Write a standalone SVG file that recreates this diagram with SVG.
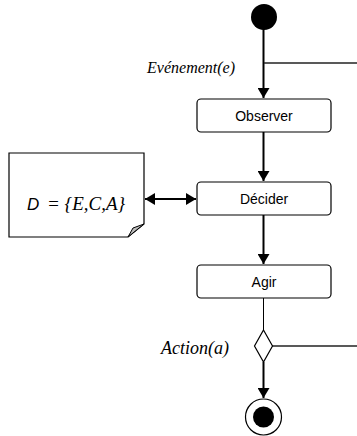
<svg xmlns="http://www.w3.org/2000/svg" width="357" height="436" viewBox="0 0 357 436">
<style>
.box{fill:#fff;stroke:#000;stroke-width:1.2}
.thick{stroke:#000;stroke-width:2;fill:none}
.thin{stroke:#000;stroke-width:1;fill:none}
.side{stroke:#222;stroke-width:1.3;fill:none}
</style>
<defs>
<marker id="ah" viewBox="0 0 10 12" refX="10" refY="6" markerWidth="5" markerHeight="6" orient="auto-start-reverse" markerUnits="strokeWidth">
<path d="M0,0 L10,6 L0,12 Z" fill="#000"/>
</marker>
</defs>
<g id="start"><circle cx="264" cy="17" r="13" fill="#000"/></g>
<g id="connectors">
<line class="thick" x1="263.5" y1="28" x2="263.5" y2="98" marker-end="url(#ah)"/>
<line class="side" x1="264" y1="63" x2="357" y2="63"/>
<line class="thick" x1="263.5" y1="132" x2="263.5" y2="181" marker-end="url(#ah)"/>
<line class="thick" x1="263.5" y1="215" x2="263.5" y2="264" marker-end="url(#ah)"/>
<line class="thin" x1="263.5" y1="298" x2="263.5" y2="330"/>
<line class="side" x1="272" y1="346" x2="357" y2="346"/>
<line class="thick" x1="263.5" y1="362" x2="263.5" y2="398" marker-end="url(#ah)"/>
<line class="thick" x1="145" y1="199" x2="196" y2="199" marker-start="url(#ah)" marker-end="url(#ah)"/>
</g>
<g id="observer"><rect class="box" x="197" y="99" width="134" height="33" rx="4"/><text x="264" y="121" font-family="Liberation Sans" font-size="14" text-anchor="middle">Observer</text></g>
<g id="decider"><rect class="box" x="197" y="182" width="134" height="33" rx="4"/><text x="264" y="204" font-family="Liberation Sans" font-size="14" text-anchor="middle">Décider</text></g>
<g id="agir"><rect class="box" x="197" y="265" width="134" height="33" rx="4"/><text x="264" y="287" font-family="Liberation Sans" font-size="14" text-anchor="middle">Agir</text></g>
<g id="decision"><path d="M263.5,330 L272.5,346 L263.5,362 L254.5,346 Z" fill="#fff" stroke="#000" stroke-width="1.2"/></g>
<g id="end"><circle cx="263.5" cy="417" r="18" fill="#fff" stroke="#000" stroke-width="1.2"/><circle cx="263.5" cy="417" r="10.5" fill="#000"/></g>
<g id="note">
<path d="M9,153 L144,153 L144,224 L128,237 L9,237 Z" fill="#fff" stroke="#000" stroke-width="1.2"/>
<path d="M128,237 L133,228 L144,224 Z" fill="#bbb" stroke="#000" stroke-width="1"/>
<text x="27" y="210" font-family="Liberation Sans" font-style="italic" font-size="17">D</text>
<text x="47" y="210" font-family="Liberation Serif" font-style="italic" font-size="19">= {E,C,A}</text>
</g>
<g id="labels">
<text x="235" y="73" font-family="Liberation Serif" font-style="italic" font-size="16" text-anchor="end">Evénement(e)</text>
<text x="229" y="354" font-family="Liberation Serif" font-style="italic" font-size="18" text-anchor="end">Action(a)</text>
</g>
</svg>
